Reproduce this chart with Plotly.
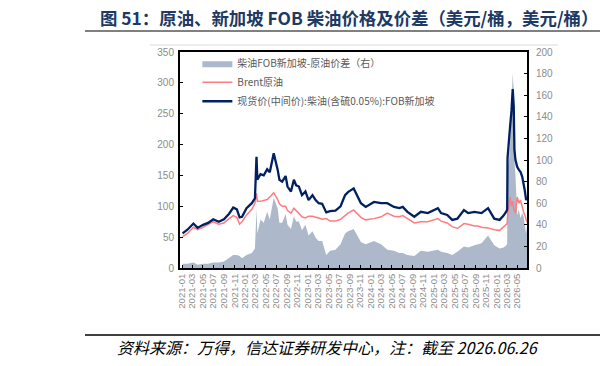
import plotly.graph_objects as go

dates = ["2021-01-04","2021-02-01","2021-03-08","2021-04-01","2021-05-03","2021-06-01","2021-07-01","2021-08-02",
         "2021-09-01","2021-10-01","2021-10-25","2021-11-15","2021-12-01","2021-12-15","2022-01-10","2022-02-10",
         "2022-02-28","2022-03-09","2022-03-14","2022-04-01","2022-04-20","2022-05-10","2022-05-25","2022-06-17",
         "2022-07-10","2022-07-20","2022-08-05","2022-08-25","2022-09-05","2022-09-25","2022-10-12","2022-10-25",
         "2022-11-10","2022-11-28","2022-12-18","2023-01-05","2023-01-28","2023-02-15","2023-03-05","2023-03-25",
         "2023-04-18","2023-05-10","2023-06-10","2023-07-10","2023-08-05","2023-08-22","2023-09-24","2023-10-15",
         "2023-11-05","2023-12-03","2024-01-20","2024-03-01","2024-04-06","2024-05-15","2024-06-15","2024-07-05",
         "2024-08-01","2024-09-10","2024-10-18","2024-11-27","2025-01-25","2025-02-12","2025-03-20","2025-04-18",
         "2025-05-18","2025-06-25","2025-07-20","2025-08-25","2025-09-15","2025-10-05","2025-11-12","2025-12-18",
         "2026-01-18","2026-02-10","2026-02-27","2026-03-03","2026-03-05","2026-03-12","2026-03-20","2026-03-28",
         "2026-04-04","2026-04-10","2026-04-14","2026-04-20","2026-04-30","2026-05-10","2026-05-19","2026-05-29",
         "2026-06-07","2026-06-13","2026-06-21","2026-06-26"]

diesel = [56,62,72,65,70,73,79,75,
          79,88,98,95,82,83,97,105,
          113,180,143,152,150,160,155,186,
          159,143,140,149,132,124,143,134,
          132,118,124,110,118,110,105,104,
          90,92,93,100,118,123,129,118,
          105,99,107,105,105,99,97,99,
          91,83,91,89,97,89,86,78,
          80,94,89,91,90,89,97,80,
          78,85,92,95,178,197,230,255,
          290,262,192,175,164,159,156,148,
          137,126,110,113]

brent = [51,56,66,62,66,70,75,71,
         73,80,85,82,71,75,86,95,
         105,121,108,108,109,111,115,122,
         111,104,100,100,93,89,97,93,
         89,83,81,84,84,83,81,79,
         80,76,76,79,86,89,94,88,
         82,78,80,83,89,84,83,85,
         80,73,75,75,80,76,73,67,
         64,72,71,68,68,66,65,62,
         61,66,70,72,85,100,115,100,
         108,95,92,89,115,105,110,97,
         90,86,78,74]

spread = [4,4,5,3,4,4,5,5,
          6,9,12,12,11,9,12,14,
          18,55,32,45,42,52,45,65,
          55,42,42,50,40,36,48,43,
          43,35,40,30,34,28,25,25,
          12,16,17,22,32,34,36,30,
          24,22,25,22,17,16,14,14,
          12,11,16,15,17,15,14,12,
          15,20,19,21,22,23,30,21,
          18,19,21,23,93,97,115,155,
          180,165,100,86,49,54,46,51,
          47,40,32,39]

tick_vals = ["2021-01-01","2021-03-01","2021-05-01","2021-07-01","2021-09-01","2021-11-01",
             "2022-01-01","2022-03-01","2022-05-01","2022-07-01","2022-09-01","2022-11-01",
             "2023-01-01","2023-03-01","2023-05-01","2023-07-01","2023-09-01","2023-11-01",
             "2024-01-01","2024-03-01","2024-05-01","2024-07-01","2024-09-01","2024-11-01",
             "2025-01-01","2025-03-01","2025-05-01","2025-07-01","2025-09-01","2025-11-01",
             "2026-01-01","2026-03-01","2026-05-01"]
tick_text = ["2021-01","2021-03","2021-05","2021-07","2021-09","2021-11",
             "2022-01","2022-03","2022-05","2022-07","2022-09","2022-11",
             "2023-01","2023-03","2023-05","2023-07","2023-09","2023-11",
             "2024-01","2024-03","2024-05","2024-07","2024-09","2024-11",
             "2025-01","2025-03","2025-05","2025-07","2025-09","2025-11",
             "2026-01","2026-03","2026-05"]

FONT = "Liberation Sans, Noto Sans CJK SC, sans-serif"
CJK = "Noto Sans CJK SC, sans-serif"
GRAY = "#8C8C8C"

fig = go.Figure()
fig.add_trace(go.Scatter(x=dates, y=spread, name="柴油FOB新加坡-原油价差（右）",
                         mode="lines", line=dict(width=0, color="#ADB9CA"),
                         fill="tozeroy", fillcolor="#ADB9CA", yaxis="y"))
fig.add_trace(go.Scatter(x=dates, y=brent, name="Brent原油", mode="lines",
                         line=dict(width=1.5, color="#FF7C80"), yaxis="y2"))
fig.add_trace(go.Scatter(x=dates, y=diesel, name="现货价(中间价):柴油(含硫0.05%):FOB新加坡", mode="lines",
                         line=dict(width=2.3, color="#002060"), yaxis="y2"))

def axis(**kw):
    d = dict(showgrid=False, zeroline=False, ticks="inside", ticklen=3, tickcolor="black",
             showline=True, linecolor="black", linewidth=2,
             tickfont=dict(family=FONT, size=10, color=GRAY))
    d.update(kw)
    return d

fig.update_layout(
    width=600, height=366, autosize=False,
    margin=dict(l=180, r=73, t=52, b=98),
    paper_bgcolor="white", plot_bgcolor="white",
    showlegend=True,
    legend=dict(x=0.05, y=1.015, xanchor="left", yanchor="top", bgcolor="rgba(0,0,0,0)",
                font=dict(family=CJK, size=10, color="#595959"), tracegroupgap=0,
                itemwidth=30, traceorder="normal"),
    xaxis=axis(type="date", range=["2020-12-20", "2026-06-26"], tickvals=tick_vals, ticktext=tick_text,
               tickangle=-90, mirror=True, tickfont=dict(family=FONT, size=9.5, color=GRAY)),
    yaxis=axis(side="right", range=[0, 200], dtick=20, ticklabelstandoff=5),
    yaxis2=axis(side="left", overlaying="y", range=[0, 350], dtick=50, ticklabelstandoff=2),
    shapes=[
        dict(type="line", xref="paper", yref="paper", x0=-0.2738, x1=1.2104, y0=1.0972, y1=1.0972,
             line=dict(color="#808080", width=2)),
        dict(type="line", xref="paper", yref="paper", x0=-0.0865, x1=1.0893, y0=1.0324, y1=1.0324,
             line=dict(color="#D9D9D9", width=1)),
        dict(type="line", xref="paper", yref="paper", x0=-0.2738, x1=1.2104, y0=-0.3102, y1=-0.3102,
             line=dict(color="black", width=1.5)),
    ],
    annotations=[
        dict(text="<b>图 51：原油、新加坡 FOB 柴油价格及价差（美元/桶，美元/桶）</b>", xref="paper", yref="paper",
             x=-0.2363, y=1.162, xanchor="left", yanchor="middle", showarrow=False,
             font=dict(family=CJK, size=17.4, color="#203864")),
        dict(text="<i>资料来源：万得，信达证券研发中心，注：截至 2026.06.26</i>", xref="paper", yref="paper",
             x=-0.1873, y=-0.3657, xanchor="left", yanchor="middle", showarrow=False,
             font=dict(family=CJK, size=16, color="black")),
    ],
)

fig.write_html("out.html")
